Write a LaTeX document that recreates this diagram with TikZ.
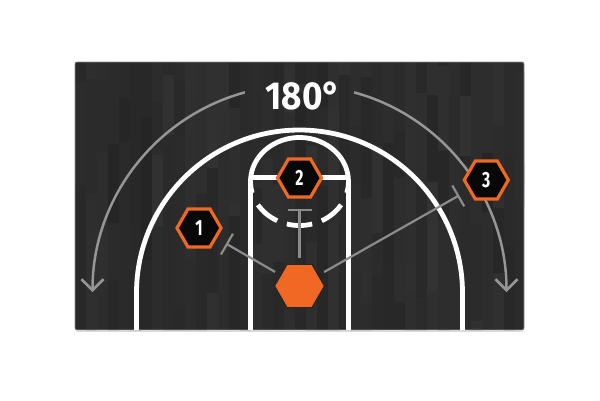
\documentclass[tikz,border=0pt]{standalone}
\usepackage{fontspec}
\setmainfont{Fira Sans}
\newfontfamily\numfont[FakeStretch=0.72]{Fira Sans}
\newfontfamily\titlefont[FakeStretch=0.9]{Fira Sans}
\usetikzlibrary{arrows.meta,shapes.geometric}
\definecolor{hexorange}{RGB}{240,104,36}
\definecolor{arcgray}{RGB}{150,150,150}
\definecolor{conngray}{RGB}{140,140,140}
\definecolor{hexblack}{RGB}{8,8,8}
\definecolor{courtbase}{RGB}{44,44,44}
\tikzset{
  numhex/.style={regular polygon, regular polygon sides=6, minimum size=44pt, inner sep=0pt,
    fill=hexblack, draw=hexorange, line width=3.2pt, text=white,
    font=\numfont\bfseries\fontsize{22}{22}\selectfont},
  playerhex/.style={regular polygon, regular polygon sides=6, minimum size=50pt, inner sep=0pt,
    fill=hexorange, draw=black!85, line width=1.2pt},
  conn/.style={draw=conngray, line width=2.2pt, shorten <=6pt, shorten >=10.5pt, -{Bar[width=24pt]}},
  bigarc/.style={draw=arcgray, line width=2.5pt, -{Straight Barb[length=11pt,width=22pt]}},
  courtline/.style={draw=white, line width=4.8pt},
  titletext/.style={font=\titlefont\bfseries\fontsize{39}{39}\selectfont, text=white, inner sep=0pt}
}
\begin{document}
\begin{tikzpicture}[x=1pt,y=-1pt]
\useasboundingbox (0,0) rectangle (600,400);
% shadow under court
\draw[black!15, line width=1pt] (76,331) -- (523,331);
% court with wood planks
\begin{scope}
  \clip[rounded corners=2pt] (75,62) rectangle (524,330);
  \fill[courtbase] (75,62) rectangle (524,330);
  \pgfmathsetseed{42}
  \foreach \i in {0,...,40} {
    \pgfmathsetmacro\gx{75+\i*11}
    \pgfmathsetmacro\ga{15+4*rnd}
    \fill[white!\ga!black] (\gx,62) rectangle ++(11,268);
    \foreach \k in {1,2} {
      \pgfmathsetmacro\gb{14.5+5*rnd}
      \pgfmathsetmacro\gy{40+268*rnd}
      \pgfmathsetmacro\gl{40+90*rnd}
      \fill[white!\gb!black] (\gx,\gy) rectangle ++(11,\gl);
    }
  }
\end{scope}
\draw[black!45, line width=0.6pt, rounded corners=2pt] (75,62) rectangle (524,330);
% court lines
\coordinate (ftc) at (299.5,181.5);
\draw[courtline] (136.5,330) -- (136.5,293) arc[start angle=180, end angle=360, radius=163] -- (462.5,330);
\draw[courtline] (250.5,330) -- (250.5,181.5);
\draw[courtline] (348.5,330) -- (348.5,181.5);
\draw[courtline] (250.5,177.5) -- (348.5,177.5);
\draw[courtline] ([shift={(165:49 and 44)}]ftc) arc[start angle=165, end angle=375, x radius=49, y radius=44];
\draw[courtline] ([shift={(148:49 and 44)}]ftc) arc[start angle=148, end angle=117, x radius=49, y radius=44];
\draw[courtline] ([shift={(105:49 and 44)}]ftc) arc[start angle=105, end angle=75, x radius=49, y radius=44];
\draw[courtline] ([shift={(63:49 and 44)}]ftc) arc[start angle=63, end angle=32, x radius=49, y radius=44];
% 180 degree arcs
\coordinate (ac) at (299.5,292);
\draw[bigarc] ([shift={(254.7:207)}]ac) arc[start angle=254.7, end angle=180, radius=207];
\draw[bigarc] ([shift={(285.3:207)}]ac) arc[start angle=285.3, end angle=360, radius=207];
\node[titletext] (deg) at (303.3,95.7) {180°};
% players
\node[playerhex] (p) at (299.5,286) {};
\node[numhex] (h1) at (199,228) {1};
\node[numhex] (h2) at (299.5,178) {2};
\node[numhex] (h3) at (486.3,180) {3};
% connectors
\draw[conn] (p) -- (h1);
\draw[conn] (p) -- (h2);
\draw[conn] (p) -- (h3);
\end{tikzpicture}
\end{document}
